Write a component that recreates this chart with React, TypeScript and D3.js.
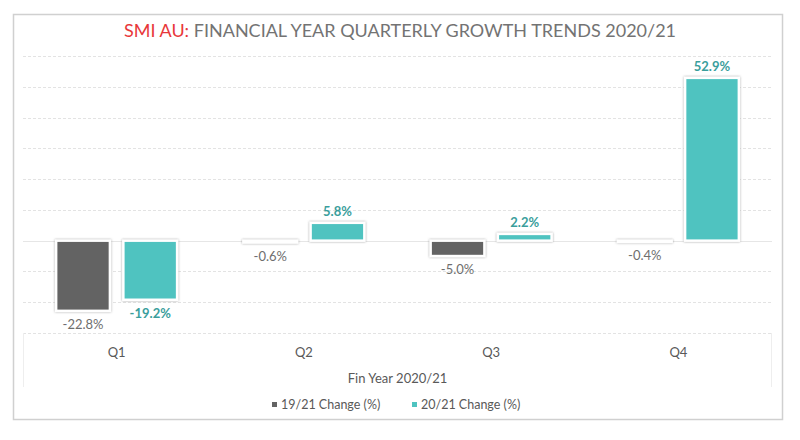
import React from "react";
import * as d3 from "d3";

const categories = ["Q1", "Q2", "Q3", "Q4"];
const seriesNames = ["19/21 Change (%)", "20/21 Change (%)"];
const series1921 = [-22.8, -0.6, -5.0, -0.4];
const series2021 = [-19.2, 5.8, 2.2, 52.9];
const yTicks = [-30, -20, -10, 0, 10, 20, 30, 40, 50, 60];
const seriesColors = ["#636363", "#4fc3c0"];
const labelColors = ["#6e6e6e", "#3a9e9c"];

const W = 800;
const H = 440;
const FONT = "Lato, 'Open Sans', sans-serif";

export default function App() {
  const plotL = 23, plotR = 772, plotT = 56, plotB = 333;
  const x0 = d3.scaleBand<string>().domain(categories).range([plotL, plotR]).paddingInner(0.354).paddingOuter(0.177);
  const x1 = d3.scaleBand<string>().domain(seriesNames).range([0, x0.bandwidth()]).paddingInner(0.2);
  const y = d3.scaleLinear().domain([-30, 60]).range([plotB, plotT]);
  const data = [series1921, series2021];
  const xc = d3.scaleBand<string>().domain(categories).range([plotL, plotR]);

  return (
    <svg width={W} height={H} style={{ position: "absolute", left: 0, top: 0 }} fontFamily={FONT}>
      <defs>
        <filter id="sh" filterUnits="userSpaceOnUse" x={0} y={0} width={W} height={H}>
          <feDropShadow dx="0" dy="0" stdDeviation="1.2" floodColor="#777" floodOpacity="0.7" />
        </filter>
      </defs>
      <rect x={0} y={0} width={W} height={H} fill="#fff" />
      <rect x={13.5} y={14.5} width={769} height={405} fill="#fff" stroke="#d0d0d0" strokeWidth={1.5} />
      <text x={400} y={37} textAnchor="middle" fontSize={18} fill="#737373">
        <tspan fill="#e8373a">SMI AU:</tspan>
        <tspan> FINANCIAL YEAR QUARTERLY GROWTH TRENDS 2020/21</tspan>
      </text>
      {yTicks.map((t) => (
        <line key={t} x1={plotL} x2={plotR} y1={Math.round(y(t)) + 0.5} y2={Math.round(y(t)) + 0.5}
          stroke={t === 0 ? "#e6e6e6" : "#e3e3e3"} strokeWidth={1}
          strokeDasharray={t === 0 ? undefined : "3,2"} />
      ))}
      <line x1={plotL + 0.5} x2={plotL + 0.5} y1={plotB} y2={387} stroke="#eee" />
      <line x1={plotR - 0.5} x2={plotR - 0.5} y1={plotB} y2={387} stroke="#eee" />
      {categories.map((c, i) => (
        <g key={c}>
          {data.map((s, j) => {
            const v = s[i];
            const bx = (x0(c) as number) + (x1(seriesNames[j]) as number);
            const top = y(Math.max(0, v));
            const bot = y(Math.min(0, v));
            return (
              <g key={j}>
                <rect x={bx} y={top} width={x1.bandwidth()} height={Math.max(bot - top, 1)}
                  fill={seriesColors[j]} stroke="#fff" strokeWidth={2.5} filter="url(#sh)" />
                <text x={bx + x1.bandwidth() / 2} y={v >= 0 ? top - 7 : bot + 18} textAnchor="middle"
                  fontSize={13} fill={labelColors[j]} fontWeight={j === 1 ? 700 : 400}>
                  {v.toFixed(1)}%
                </text>
              </g>
            );
          })}
          <text x={(xc(c) as number) + xc.bandwidth() / 2} y={357} textAnchor="middle" fontSize={13} fill="#595959">{c}</text>
        </g>
      ))}
      <text x={(plotL + plotR) / 2} y={383} textAnchor="middle" fontSize={13} fill="#595959">Fin Year 2020/21</text>
      {seriesNames.map((n, j) => {
        const lx = j === 0 ? 272 : 412;
        return (
          <g key={n}>
            <rect x={lx} y={402} width={5} height={5} fill={seriesColors[j]} />
            <text x={lx + 9} y={409} fontSize={12.5} fill="#595959">{n}</text>
          </g>
        );
      })}
    </svg>
  );
}
